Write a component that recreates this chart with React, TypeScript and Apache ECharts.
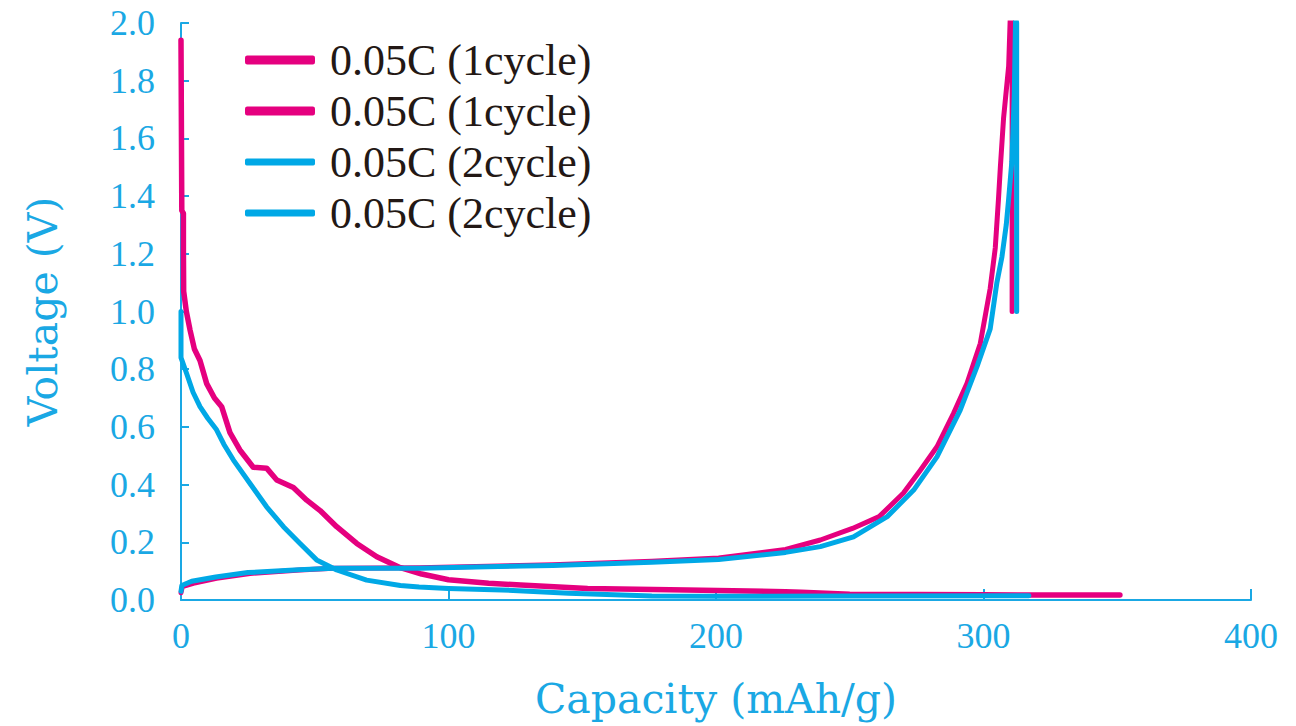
import React, { useEffect, useRef } from "react";
import * as echarts from "echarts";

const seriesNames = ["0.05C (1cycle)", "0.05C (1cycle)", "0.05C (2cycle)", "0.05C (2cycle)"];

const xTicks = [0, 100, 200, 300, 400];
const yTicks = [0.0, 0.2, 0.4, 0.6, 0.8, 1.0, 1.2, 1.4, 1.6, 1.8, 2.0];

// cycle 1 discharge (capacity mAh/g, voltage V)
const cycle1Discharge: [number, number][] = [
  [0, 1.94], [0.3, 1.35], [0.9, 1.34], [0.9, 1.21], [1.0, 1.07], [2.0, 1.0], [3.4, 0.935],
  [5, 0.87], [7.1, 0.83], [9.6, 0.75], [12.5, 0.7], [15.2, 0.67], [18.3, 0.58], [22, 0.52],
  [27, 0.46], [32, 0.457], [35.8, 0.416], [42, 0.39], [47, 0.346], [52, 0.31], [58.2, 0.254],
  [65.7, 0.196], [73.2, 0.15], [82, 0.112], [90, 0.09], [100, 0.07], [115, 0.058], [127, 0.052],
  [152, 0.04], [189, 0.035], [226, 0.029], [232, 0.027], [250, 0.02], [300, 0.018], [351, 0.017],
];

// cycle 1 charge
const cycle1Charge: [number, number][] = [
  [0, 0.025], [0.5, 0.046], [4.6, 0.058], [13.3, 0.075], [25.8, 0.092], [44.5, 0.104],
  [57, 0.11], [89, 0.112], [139, 0.122], [176, 0.134], [201, 0.146], [226, 0.175],
  [239, 0.208], [251, 0.248], [261, 0.289], [270, 0.37], [276.4, 0.45], [282.6, 0.531],
  [288.8, 0.647], [293.8, 0.75], [298.8, 0.889], [302.5, 1.08], [304.4, 1.22], [305.6, 1.39],
  [306.3, 1.5], [307.5, 1.67], [309.4, 1.85], [310, 2.02], [310.7, 2.0], [310.7, 1.0],
];

// cycle 2 discharge
const cycle2Discharge: [number, number][] = [
  [0, 1.0], [0, 0.84], [2.1, 0.785], [4.5, 0.72], [7.1, 0.67], [10, 0.63], [13.3, 0.59],
  [16, 0.54], [19.6, 0.485], [25.8, 0.404], [32, 0.323], [38.3, 0.254], [44.5, 0.196],
  [50.7, 0.139], [58.2, 0.104], [69.4, 0.069], [82, 0.05], [89, 0.045], [100, 0.04],
  [120, 0.035], [145, 0.023], [176, 0.014], [200, 0.013], [250, 0.014], [317, 0.015],
];

// cycle 2 charge
const cycle2Charge: [number, number][] = [
  [0, 0.03], [0.3, 0.05], [4, 0.065], [13, 0.08], [25, 0.095], [44, 0.105], [57, 0.11],
  [89, 0.11], [139, 0.12], [176, 0.131], [201, 0.14], [226, 0.165], [239, 0.185],
  [251.4, 0.219], [264, 0.289], [273.9, 0.381], [282.6, 0.496], [291.3, 0.658],
  [297.6, 0.81], [302.5, 0.94], [305, 1.1], [306.9, 1.19], [308.5, 1.3], [309.4, 1.39],
  [310.6, 1.52], [311.5, 1.75], [312, 2.02], [312.4, 2.0], [312.4, 1.0],
];

const MAGENTA = "#E5007F";
const CYAN = "#00A8E6";
const AXIS = "#1AA8E4";
const TICK_FONT = "'Liberation Serif', 'Times New Roman', serif";
const TITLE_FONT = "'DejaVu Serif', 'Liberation Serif', serif";

export default function App() {
  const ref = useRef<HTMLDivElement>(null);
  useEffect(() => {
    if (!ref.current) return;
    const chart = echarts.init(ref.current, null, { renderer: "svg" });
    const mk = (name: string, data: [number, number][], color: string, width: number) => ({
      name,
      type: "line",
      data,
      symbol: "none",
      lineStyle: { color, width, cap: "round", join: "round" },
      itemStyle: { color },
      z: 2,
    });
    const legends = seriesNames.map((name, i) => ({
      data: [name],
      orient: "vertical",
      left: 240,
      top: 33 + i * 51,
      icon: "roundRect",
      itemWidth: 70,
      itemHeight: i < 2 ? 9 : 7,
      selectedMode: false,
      textStyle: {
        fontFamily: TICK_FONT,
        fontSize: 44,
        lineHeight: 44,
        color: "#231815",
        padding: [0, 0, 0, 10],
      },
    }));
    chart.setOption({
      animation: false,
      backgroundColor: "#fff",
      grid: { left: 181, right: 45, top: 23, bottom: 126, containLabel: false },
      legend: legends,
      xAxis: {
        type: "value",
        min: xTicks[0],
        max: xTicks[xTicks.length - 1],
        interval: 100,
        name: "Capacity (mAh/g)",
        nameLocation: "middle",
        nameGap: 78,
        nameTextStyle: { fontFamily: TITLE_FONT, fontSize: 41, color: AXIS },
        axisLine: { lineStyle: { color: AXIS, width: 2 } },
        axisTick: { inside: true, length: 11, lineStyle: { color: AXIS, width: 2 } },
        axisLabel: {
          fontFamily: TICK_FONT,
          fontSize: 36,
          color: AXIS,
          margin: 18,
        },
        splitLine: { show: false },
      },
      yAxis: {
        type: "value",
        min: yTicks[0],
        max: yTicks[yTicks.length - 1],
        interval: 0.2,
        name: "Voltage (V)",
        nameLocation: "middle",
        nameRotate: 90,
        nameGap: 118,
        nameTextStyle: { fontFamily: TITLE_FONT, fontSize: 41, color: AXIS },
        axisLine: { lineStyle: { color: AXIS, width: 2 } },
        axisTick: { inside: true, length: 8, lineStyle: { color: AXIS, width: 2 } },
        axisLabel: {
          fontFamily: TICK_FONT,
          fontSize: 36,
          color: AXIS,
          margin: 26,
          formatter: (v: number) => v.toFixed(1),
        },
        splitLine: { show: false },
      },
      series: [
        mk(seriesNames[0], cycle1Discharge, MAGENTA, 5.5),
        mk(seriesNames[1], cycle1Charge, MAGENTA, 5),
        mk(seriesNames[2], cycle2Discharge, CYAN, 5),
        mk(seriesNames[3], cycle2Charge, CYAN, 5),
      ],
    });
    return () => chart.dispose();
  }, []);
  return (
    <div
      ref={ref}
      style={{ position: "fixed", left: 0, top: 0, width: 1296, height: 726 }}
    />
  );
}
